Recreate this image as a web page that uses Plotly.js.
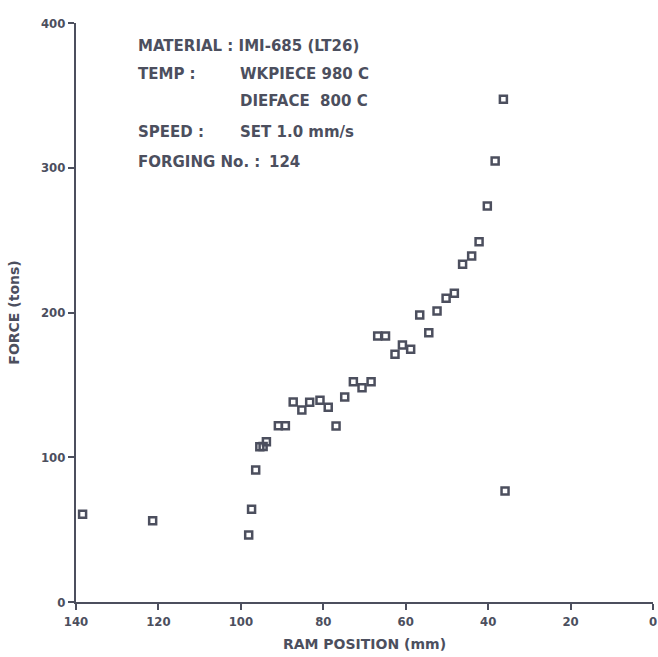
<!DOCTYPE html>
<html>
<head>
<meta charset="utf-8">
<script src="https://cdn.plot.ly/plotly-3.0.1.min.js"></script>
<style>html,body{margin:0;padding:0;background:#fff;}#chart{width:658px;height:657px;}</style>
</head>
<body>
<div id="chart"></div>
<script>
// Ram position (mm) and force (tons)
const ramPosition = [138.4, 121.4, 98.1, 97.4, 96.4, 95.4, 94.6, 93.8, 90.9, 89.2,
  87.3, 85.2, 83.3, 80.8, 78.8, 76.9, 74.8, 72.7, 70.6, 68.4,
  66.8, 64.9, 62.6, 60.8, 58.8, 56.6, 54.4, 52.4, 50.2, 48.2,
  46.2, 44.0, 42.2, 40.2, 38.3, 36.3, 35.9];
const force = [60.6, 56.2, 46.3, 64.0, 91.2, 107.3, 107.5, 110.7, 121.8, 121.8,
  138.2, 132.6, 138.0, 139.3, 134.5, 121.6, 141.6, 152.2, 148.0, 152.2,
  183.8, 183.8, 171.1, 177.5, 174.6, 198.3, 186.0, 201.0, 209.8, 213.3,
  233.3, 239.0, 248.9, 273.6, 304.7, 347.3, 76.7];
const xTicks = [140, 120, 100, 80, 60, 40, 20, 0];
const yTicks = [0, 100, 200, 300, 400];
const infoLeft = ["MATERIAL : IMI-685 (LT26)", "TEMP :", "", "SPEED :", "FORGING No. :"];
const infoRight = ["", "WKPIECE 980 C", "DIEFACE&nbsp;&nbsp;800 C", "SET 1.0 mm/s", ""];
const forgingNo = "124";

const ink = '#4c4f5e';
const font = {family: 'DejaVu Sans Condensed, DejaVu Sans', color: ink};
const wideFont = {family: 'DejaVu Sans', color: ink};

const rowY = [0.960, 0.912, 0.865, 0.812, 0.760];
const annFont = Object.assign({}, wideFont, {size: 15});
const annotations = [];
infoLeft.forEach((t, i) => {
  if (t) annotations.push({text: '<b>' + t + '</b>', xref: 'paper', yref: 'paper', x: 0.104, y: rowY[i],
    xanchor: 'left', yanchor: 'middle', showarrow: false, font: annFont});
});
infoRight.forEach((t, i) => {
  if (t) annotations.push({text: '<b>' + t + '</b>', xref: 'paper', yref: 'paper', x: 0.281, y: rowY[i],
    xanchor: 'left', yanchor: 'middle', showarrow: false, font: annFont});
});
annotations.push({text: '<b>' + forgingNo + '</b>', xref: 'paper', yref: 'paper', x: 0.331, y: rowY[4],
  xanchor: 'left', yanchor: 'middle', showarrow: false, font: annFont});

const trace = {
  x: ramPosition, y: force, type: 'scatter', mode: 'markers',
  marker: {symbol: 'square-open', size: 7, color: ink, line: {width: 2.5, color: ink}},
  cliponaxis: false, hoverinfo: 'skip'
};

const axisCommon = {
  showgrid: false, zeroline: false, showline: true, linewidth: 2, linecolor: ink,
  ticks: 'outside', ticklen: 6, tickwidth: 2, tickcolor: ink,
  tickfont: Object.assign({}, font, {size: 13, weight: 'bold'})
};

const layout = {
  width: 658, height: 657,
  margin: {l: 76, r: 5, t: 23, b: 55},
  paper_bgcolor: '#fff', plot_bgcolor: '#fff',
  showlegend: false,
  xaxis: Object.assign({}, axisCommon, {
    range: [140, 0], tickvals: xTicks, ticktext: xTicks.map(String),
    title: {text: '<b>RAM POSITION (mm)</b>', font: Object.assign({}, wideFont, {size: 14}), standoff: 12}
  }),
  yaxis: Object.assign({}, axisCommon, {
    range: [0, 400], tickvals: yTicks, ticktext: yTicks.map(String),
    title: {text: '<b>FORCE (tons)</b>', font: Object.assign({}, wideFont, {size: 14}), standoff: 18}
  }),
  annotations: annotations
};

Plotly.newPlot('chart', [trace], layout, {staticPlot: true, displayModeBar: false});
</script>
</body>
</html>
